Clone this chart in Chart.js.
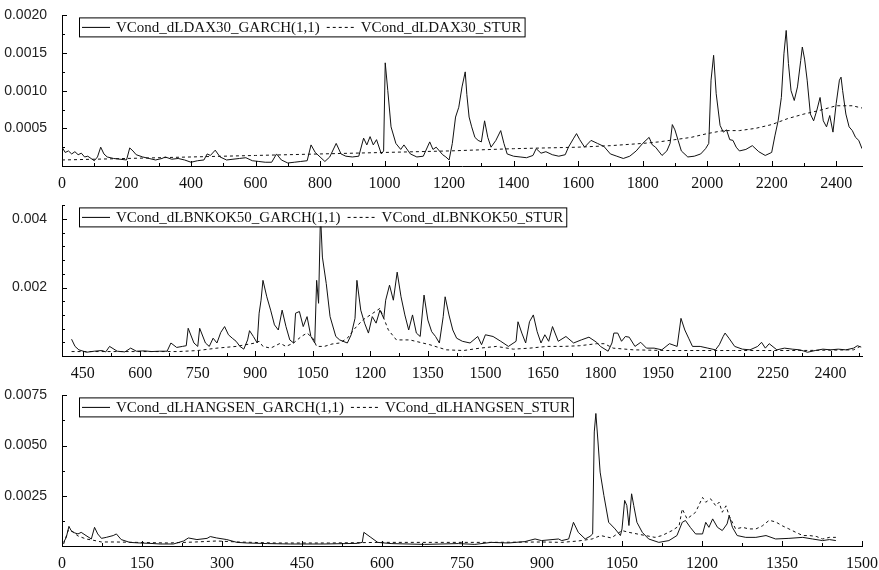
<!DOCTYPE html>
<html>
<head>
<meta charset="utf-8">
<script src="https://cdn.jsdelivr.net/npm/chart.js@4"></script>
<style>
  body { margin: 0; background: #fff; }
  .panel { position: absolute; left: 0; width: 879px; height: 200px; }
</style>
</head>
<body>
<div class="panel" style="top:0"><canvas id="c1"></canvas></div>
<div class="panel" style="top:190px"><canvas id="c2"></canvas></div>
<div class="panel" style="top:380px"><canvas id="c3"></canvas></div>
<script>
// ---- DAX30 ----
const daxX = [0,10,20,30,40,50,60,70,80,90,100,110,120,130,140,160,180,200,210,220,230,250,270,290,310,320,340,360,380,400,
  420,440,450,460,475,490,510,530,550,570,590,610,630,650,665,680,700,720,740,760,772,785,800,815,830,850,865,880,900,920,
  935,945,955,965,975,990,997,1002,1010,1020,1035,1050,1060,1080,1100,1120,1140,1150,1160,1180,1190,1200,1210,1220,1230,1240,1250,1255,1262,1270,
  1280,1290,1300,1310,1320,1330,1345,1360,1370,1380,1400,1420,1440,1460,1470,1485,1500,1520,1540,1560,1570,1585,1595,1605,1620,1640,1660,1680,1700,1720,
  1740,1760,1780,1800,1820,1830,1840,1860,1875,1885,1892,1900,1910,1920,1940,1960,1980,1995,2005,2012,2020,2028,2040,2050,2060,2070,2080,2090,2100,2120,
  2140,2160,2180,2200,2210,2220,2230,2238,2245,2252,2260,2270,2280,2290,2295,2302,2310,2320,2330,2340,2350,2360,2370,2380,2390,2400,2410,2415,2420,2430,
  2440,2450,2460,2470,2480];
const daxGarch = [0.00025,0.00018,0.0002,0.00016,0.00019,0.00015,0.00017,0.00012,0.00013,0.0001,0.00007,0.00012,0.00025,0.00016,0.00012,0.0001,0.00009,0.00008,0.00024,0.0002,0.00015,0.00012,0.0001,0.00008,0.0001,0.00012,0.00009,0.0001,0.00008,0.00005,
  0.00007,0.00008,0.00016,0.00014,0.00021,0.00012,0.00008,0.00009,0.0001,0.00011,0.00007,0.00006,0.00005,0.00005,0.00016,0.00008,0.00004,0.00005,0.00006,0.00007,0.00028,0.00018,0.00012,0.00006,0.00012,0.0003,0.00016,0.00013,0.00012,0.00013,
  0.00037,0.00028,0.00039,0.00028,0.00035,0.00016,0.0002,0.00137,0.001,0.00052,0.0003,0.00022,0.00028,0.00016,0.00012,0.00013,0.00032,0.00022,0.00025,0.00015,0.00012,0.00008,0.0003,0.00065,0.00078,0.00105,0.00125,0.00095,0.00065,0.00052,
  0.00038,0.00034,0.00032,0.0006,0.00038,0.00025,0.00034,0.00047,0.0003,0.00016,0.00013,0.00012,0.00011,0.00014,0.00023,0.00017,0.00019,0.00015,0.00013,0.00015,0.00025,0.00036,0.00043,0.00035,0.00025,0.00034,0.0003,0.00026,0.00016,0.00013,
  0.0001,0.00013,0.0002,0.0003,0.00038,0.00028,0.00025,0.00014,0.0002,0.0003,0.00055,0.00048,0.00034,0.0002,0.00012,0.00013,0.00016,0.00023,0.0003,0.00114,0.00147,0.00096,0.00054,0.00045,0.00048,0.00035,0.00034,0.00025,0.0002,0.00022,
  0.00027,0.00019,0.00014,0.00018,0.0004,0.0006,0.00091,0.00149,0.0018,0.00136,0.001,0.00087,0.00105,0.0014,0.00158,0.00142,0.00114,0.00069,0.0006,0.00074,0.00091,0.0006,0.00052,0.00067,0.00045,0.00083,0.00114,0.00118,0.001,0.00069,
  0.00052,0.00047,0.00038,0.00034,0.00023];
const daxSturX = [0,200,400,600,800,1000,1200,1400,1600,1700,1800,1850,1900,1950,2000,2050,2100,2150,2200,2250,2300,2350,2400,2450,2480];
const daxStur = [0.00008,0.0001,0.00012,0.00014,0.00016,0.00018,0.0002,0.00023,0.00025,0.00027,0.0003,0.00032,0.00035,0.00038,0.00043,0.00047,0.00047,0.0005,0.00055,0.00063,0.00069,0.00074,0.0008,0.0008,0.00077];
const daxXTicks = [0,200,400,600,800,1000,1200,1400,1600,1800,2000,2200,2400];
const daxYTicks = [0,0.0005,0.001,0.0015,0.002];

// ---- BNKOK50 ----
const bnkX = [421,430,440,460,480,500,510,520,540,560,575,590,610,630,650,670,680,695,710,720,725,740,750,755,770,780,790,800,810,820,
  830,840,850,860,870,880,885,895,905,910,915,920,930,940,950,960,970,980,990,1000,1005,1015,1025,1035,1045,1055,1060,1065,1070,1075,
  1085,1095,1110,1120,1140,1150,1160,1165,1175,1185,1195,1205,1215,1225,1235,1240,1250,1260,1270,1280,1290,1300,1310,1320,1330,1340,1350,1360,1370,1380,
  1390,1395,1405,1415,1425,1440,1460,1480,1490,1500,1520,1540,1560,1580,1585,1595,1605,1615,1625,1635,1645,1655,1665,1675,1690,1710,1730,1750,1770,1790,
  1800,1820,1830,1835,1845,1855,1865,1875,1890,1905,1920,1940,1960,1980,2000,2010,2020,2030,2040,2060,2080,2100,2110,2120,2125,2135,2150,2170,2190,2210,
  2220,2230,2240,2260,2280,2300,2320,2340,2360,2380,2400,2420,2440,2460,2470,2480];
const bnkGarch = [0.00049,0.00028,0.00018,0.00011,0.00014,0.00016,0.00012,0.00028,0.00014,0.00012,0.00023,0.00014,0.00015,0.00013,0.00014,0.00014,0.00038,0.00025,0.00028,0.0003,0.00081,0.00038,0.00028,0.00081,0.00038,0.00028,0.00052,0.00038,0.00069,0.00086,
  0.00062,0.00052,0.00043,0.00028,0.0002,0.00047,0.00074,0.00057,0.00038,0.00125,0.00163,0.00221,0.00173,0.00134,0.00091,0.00076,0.00134,0.00086,0.00047,0.00038,0.00125,0.0013,0.00086,0.00115,0.00057,0.00038,0.00221,0.00154,0.00415,0.00289,
  0.00212,0.00115,0.00057,0.00047,0.00038,0.00062,0.0011,0.00221,0.00134,0.00096,0.00067,0.00115,0.00096,0.00134,0.0011,0.00163,0.00207,0.00163,0.00245,0.00173,0.0012,0.00076,0.0012,0.00067,0.00057,0.00178,0.00105,0.00071,0.00057,0.00038,
  0.00115,0.00173,0.0012,0.00076,0.00052,0.00043,0.00038,0.00057,0.00033,0.00062,0.00057,0.00043,0.00028,0.00043,0.001,0.00067,0.00038,0.001,0.0012,0.00071,0.00038,0.00062,0.00043,0.00086,0.00043,0.00057,0.00038,0.00047,0.00055,0.0004,
  0.00028,0.00014,0.00038,0.00067,0.00067,0.00043,0.00057,0.00055,0.00028,0.0004,0.00023,0.00023,0.00018,0.00036,0.00028,0.0011,0.00076,0.00052,0.00028,0.00028,0.00023,0.00018,0.00033,0.00057,0.00067,0.00052,0.00028,0.0002,0.00018,0.00028,
  0.0004,0.00023,0.00036,0.00018,0.00023,0.0002,0.00018,0.00011,0.00016,0.0002,0.00018,0.0002,0.00018,0.00023,0.0003,0.00026];
const bnkSturX = [421,500,600,700,750,800,850,900,910,920,940,965,980,1000,1020,1035,1050,1060,1080,1100,1120,1140,1160,1180,1200,1225,1247,1268,1303,1355,
  1398,1443,1486,1529,1573,1616,1660,1703,1746,1790,1810,1833,1886,1973,2147,2320,2460,2477];
const bnkStur = [0.00013,0.00013,0.00013,0.00013,0.00016,0.00023,0.00028,0.00038,0.00043,0.00028,0.00023,0.00037,0.00028,0.00038,0.00057,0.00067,0.00052,0.00028,0.00028,0.00035,0.00038,0.00052,0.00081,0.00105,0.0012,0.00139,0.00076,0.00047,0.00047,0.00033,
  0.00018,0.00016,0.00023,0.00028,0.0002,0.00023,0.00028,0.00028,0.0003,0.00036,0.00036,0.00023,0.00018,0.00016,0.00016,0.00016,0.00018,0.00028];
const bnkXTicks = [450,600,750,900,1050,1200,1350,1500,1650,1800,1950,2100,2250,2400];
const bnkYTicks = [0,0.002,0.004];

// ---- HANGSEN ----
const hsX = [3,8,13,17,24,30,36,45,55,61,67,74,83,96,102,111,127,146,165,184,209,228,237,253,272,278,290,309,328,347,
  385,428,491,554,563,566,579,592,617,680,743,774,805,837,868,887,899,931,937,950,959,968,981,990,995,998,1001,1005,1009,1016,
  1025,1037,1047,1050,1055,1059,1063,1068,1072,1078,1088,1100,1119,1138,1153,1163,1169,1178,1188,1201,1207,1213,1220,1229,1238,1247,1251,1257,1266,1282,
  1301,1320,1338,1363,1389,1407,1426,1439,1451];
const hsGarch = [0.00018,0.00043,0.00098,0.00077,0.00065,0.0006,0.00068,0.00052,0.00035,0.00093,0.0006,0.00038,0.00043,0.00052,0.0006,0.00032,0.00018,0.00015,0.00013,0.0001,0.0001,0.00025,0.0004,0.00032,0.00038,0.00047,0.0004,0.00032,0.00018,0.00015,
  0.00012,0.0001,0.0001,0.00013,0.00018,0.00068,0.00043,0.00018,0.00012,0.00008,0.00012,0.00008,0.00018,0.00015,0.00022,0.00035,0.00027,0.00035,0.00027,0.00035,0.00118,0.00068,0.00035,0.00048,0.0006,0.00568,0.0066,0.00518,0.00368,0.00252,
  0.00118,0.00085,0.00052,0.00085,0.00227,0.00202,0.00102,0.0026,0.00202,0.00118,0.00068,0.00035,0.00018,0.00027,0.00052,0.00118,0.00127,0.00093,0.0006,0.0006,0.00118,0.00093,0.00135,0.00093,0.00077,0.0011,0.00152,0.00093,0.00052,0.00043,
  0.00043,0.00052,0.00035,0.00038,0.00043,0.00035,0.00027,0.00032,0.00027];
const hsSturX = [3,12,20,30,45,60,74,100,140,200,250,290,330,400,500,600,700,800,900,937,968,994,1010,1030,1050,1063,1094,1112,1125,1144,
  1157,1163,1172,1188,1201,1207,1216,1226,1232,1238,1245,1251,1263,1276,1288,1301,1313,1326,1338,1351,1363,1376,1389,1401,1414,1426,1439,1451];
const hsStur = [0.0001,0.0008,0.0007,0.0005,0.00035,0.00028,0.0002,0.0002,0.00018,0.00015,0.0002,0.00025,0.0002,0.00015,0.00015,0.00018,0.00018,0.00018,0.0002,0.00018,0.00025,0.00035,0.00052,0.0004,0.00077,0.00068,0.00052,0.00043,0.00052,0.00077,
  0.001,0.00185,0.00135,0.00168,0.00242,0.00218,0.00235,0.002,0.00218,0.00168,0.002,0.0015,0.00085,0.00093,0.00085,0.00085,0.001,0.00128,0.0012,0.001,0.00085,0.00068,0.00052,0.00052,0.00048,0.00035,0.00043,0.00043];
const hsXTicks = [0,150,300,450,600,750,900,1050,1200,1350,1500];
const hsYTicks = [0,0.0025,0.005,0.0075];

const serif = '"Liberation Serif", "Times New Roman", serif';
const sans = '"Liberation Sans", Arial, sans-serif';
const ink = '#111';

const pts = (xs, ys) => xs.map((x, i) => ({ x: x, y: ys[i] }));

// tick marks point into the plot, with short minor ticks in between
const innerTicks = {
  id: 'innerTicks',
  afterDraw(chart, args, opts) {
    const { ctx, chartArea: a, scales: { x, y } } = chart;
    const isMajor = (ticks, v, step) => ticks.some(t => Math.abs(t.value - v) < step * 1e-3);
    ctx.save();
    ctx.strokeStyle = '#000';
    ctx.lineWidth = 1;
    ctx.beginPath();
    for (let k = Math.ceil(x.min / opts.xMinor - 1e-6); k * opts.xMinor <= x.max + 1e-6; k++) {
      const v = k * opts.xMinor;
      const px = Math.round(x.getPixelForValue(v)) + 0.5;
      ctx.moveTo(px, a.bottom);
      ctx.lineTo(px, a.bottom - (isMajor(x.ticks, v, opts.xMinor) ? 5 : 3));
    }
    for (let k = 1; k * opts.yMinor <= y.max + 1e-12; k++) {
      const v = k * opts.yMinor;
      const py = Math.round(y.getPixelForValue(v)) + 0.5;
      ctx.moveTo(a.left, py);
      ctx.lineTo(a.left + (isMajor(y.ticks, v, opts.yMinor) ? 5 : 3), py);
    }
    ctx.stroke();
    ctx.restore();
  }
};

// boxed legend in the top left corner of the plot
const boxLegend = {
  id: 'boxLegend',
  afterDraw(chart) {
    const { ctx, chartArea: a } = chart;
    const sets = chart.data.datasets;
    ctx.save();
    ctx.font = '15px ' + serif;
    const left = a.left + 17, top = a.top + 2, h = 19;
    let w = 3;
    sets.forEach((d, i) => { w += 28 + 6 + ctx.measureText(d.label).width + (i < sets.length - 1 ? 7 : 3); });
    ctx.fillStyle = '#fff';
    ctx.fillRect(left, top, w, h);
    ctx.strokeStyle = '#000';
    ctx.lineWidth = 1;
    ctx.strokeRect(left + 0.5, top + 0.5, w, h);
    let cx = left + 3;
    const mid = top + h / 2 + 0.5;
    sets.forEach((d, i) => {
      ctx.beginPath();
      ctx.setLineDash(d.borderDash || []);
      ctx.moveTo(cx, mid);
      ctx.lineTo(cx + 28, mid);
      ctx.stroke();
      ctx.setLineDash([]);
      cx += 34;
      ctx.fillStyle = ink;
      ctx.textBaseline = 'middle';
      ctx.fillText(d.label, cx, mid + 1);
      cx += ctx.measureText(d.label).width + 7;
    });
    ctx.restore();
  }
};

function makeChart(id, o) {
  return new Chart(document.getElementById(id), {
    type: 'line',
    data: {
      datasets: [
        { label: o.names[0], data: o.garch, borderColor: ink, borderWidth: 1 },
        { label: o.names[1], data: o.stur, borderColor: ink, borderWidth: 1, borderDash: [3, 3] }
      ]
    },
    options: {
      responsive: true,
      maintainAspectRatio: false,
      animation: false,
      events: [],
      elements: { point: { radius: 0 }, line: { tension: 0 } },
      // extra bottom room so the x labels are not cut by the canvas edge
      layout: { padding: { top: 15, right: 17, left: 0, bottom: 10 } },
      plugins: { legend: { display: false }, tooltip: { enabled: false }, innerTicks: { xMinor: o.xMinor, yMinor: o.yMinor } },
      scales: {
        x: {
          type: 'linear', min: o.xMin, max: o.xMax,
          afterBuildTicks: s => { s.ticks = o.xTicks.map(v => ({ value: v })); },
          afterFit: s => { s.height = 24; },
          grid: { display: false },
          border: { display: true, color: '#000', width: 1 },
          ticks: { color: ink, font: { family: serif, size: 16 }, padding: 0, maxRotation: 0, autoSkip: false, callback: v => String(v) }
        },
        y: {
          min: 0, max: o.yMax,
          afterBuildTicks: s => { s.ticks = o.yTicks.map(v => ({ value: v })); },
          afterFit: s => { s.width = 62; },
          grid: { display: false },
          border: { display: true, color: '#000', width: 1 },
          ticks: { color: '#222', font: { family: sans, size: 14 }, padding: 7, callback: v => v === 0 ? '' : v.toFixed(o.digits) }
        }
      }
    },
    plugins: [innerTicks, boxLegend]
  });
}

makeChart('c1', {
  names: ['VCond_dLDAX30_GARCH(1,1)', 'VCond_dLDAX30_STUR'],
  garch: pts(daxX, daxGarch), stur: pts(daxSturX, daxStur),
  xMin: 0, xMax: 2480, xTicks: daxXTicks, xMinor: 100,
  yMax: 0.002, yTicks: daxYTicks, yMinor: 0.00025, digits: 4
});
makeChart('c2', {
  names: ['VCond_dLBNKOK50_GARCH(1,1)', 'VCond_dLBNKOK50_STUR'],
  garch: pts(bnkX, bnkGarch), stur: pts(bnkSturX, bnkStur),
  xMin: 396, xMax: 2482, xTicks: bnkXTicks, xMinor: 75,
  yMax: 0.0044, yTicks: bnkYTicks, yMinor: 0.0004, digits: 3
});
makeChart('c3', {
  names: ['VCond_dLHANGSEN_GARCH(1,1)', 'VCond_dLHANGSEN_STUR'],
  garch: pts(hsX, hsGarch), stur: pts(hsSturX, hsStur),
  xMin: 0, xMax: 1500, xTicks: hsXTicks, xMinor: 75,
  yMax: 0.0075, yTicks: hsYTicks, yMinor: 0.00125, digits: 4
});
</script>
</body>
</html>
